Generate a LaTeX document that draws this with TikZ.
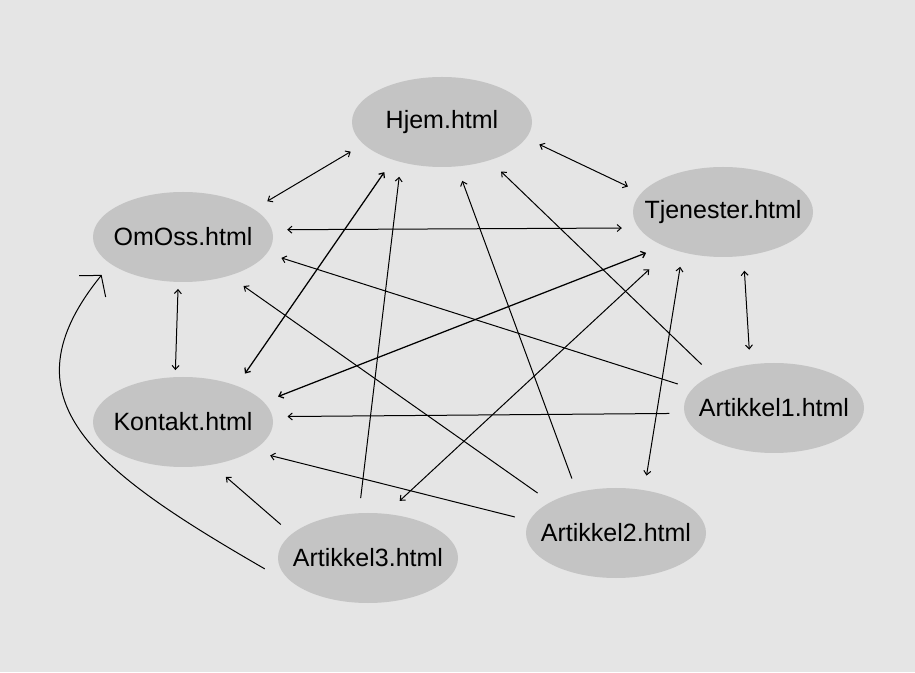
\documentclass[tikz,border=0pt]{standalone}
\usepackage{fontspec}
\setmainfont{Liberation Sans}
\usepackage[HTML]{xcolor}
\usepackage{tikz}
\usetikzlibrary{positioning, arrows, arrows.meta, shapes.geometric}

\definecolor{bgcol}{HTML}{E5E5E5}
\definecolor{pagecol}{HTML}{C4C4C4}

\tikzset{
    page/.style={ellipse, fill=pagecol, minimum width=180pt, minimum height=90pt,
        inner xsep=-20pt, outer sep=15pt, font=\fontsize{25}{29}\selectfont},
    heavy/.style={line width=1.25pt},
    bigtip/.style={-{Straight Barb[length=14pt,width=34pt]}}
}

\begin{document}
\begin{tikzpicture}[x=1pt, y=1pt, line width=1pt, >={Straight Barb[length=4pt,width=7pt]}]
    \fill[bgcol] (0,0) rectangle (915,672);

    % Define nodes
    \node[page] (Hjem) at (442,550) {Hjem.html};
    \node[page] (OmOss) at (183,435) {OmOss.html};
    \node[page] (Tjen) at (723,460) {Tjenester.html};
    \node[page] (Kontakt) at (183,250) {Kontakt.html};
    \node[page] (Art1) at (774,264) {Artikkel1.html};
    \node[page] (Art2) at (616,139) {Artikkel2.html};
    \node[page] (Art3) at (368,114) {Artikkel3.html};

    % Draw arrows
    \draw[<->] (Hjem.198) -- (OmOss.23);
    \draw[<->] (Hjem.-13) -- (Tjen.165);
    \draw[<->] (OmOss.4) -- (Tjen.189);
    \draw[<->, shorten <=-8pt, shorten >=-8pt] (OmOss.265) -- (Kontakt.97);
    \draw[<->] (Tjen.-70) -- (Art1.113);
    \draw[<->, heavy] (Kontakt.38) -- (Hjem.221);
    \draw[<->, heavy] (Kontakt.15) -- (Tjen.208);
    \draw[->] (Art1.183) -- (Kontakt.3);
    \draw[->] (Art1.166) -- (OmOss.-12);
    \draw[->] (Art1.149) -- (Hjem.-40);
    \draw[->] (Art2.129) -- (Hjem.-71);
    \draw[->] (Art2.153) -- (OmOss.-39);
    \draw[->] (Art2.171) -- (Kontakt.-21);
    \draw[<->] (Tjen.232) -- (Art2.62);
    \draw[<->, shorten <=14pt] (Tjen.217) -- (Art3.61);
    \draw[->] (Art3.97) -- (Hjem.232);
    \draw[->] (Art3.159) -- (Kontakt.-52);
    \draw[bigtip] (Art3.186) .. controls +(150:200) and +(231:160) .. (OmOss.205);
\end{tikzpicture}
\end{document}
